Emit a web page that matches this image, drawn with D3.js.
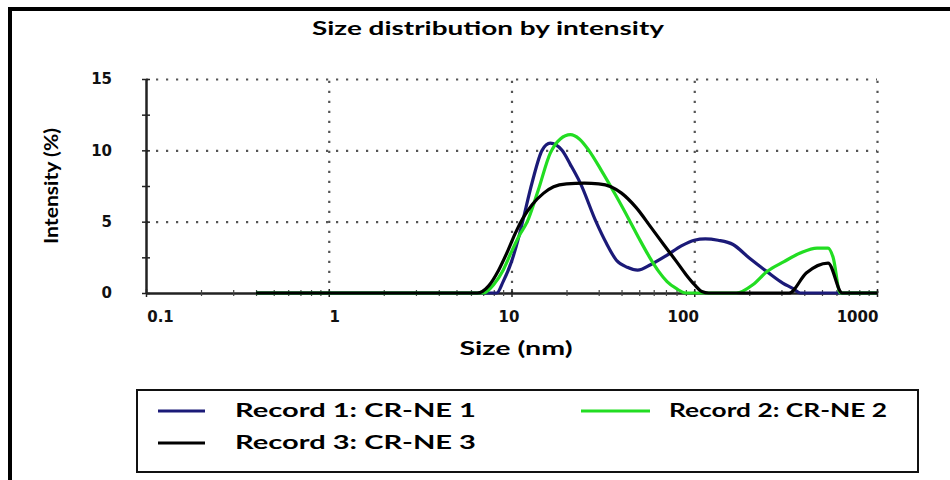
<!DOCTYPE html>
<html>
<head>
<meta charset="utf-8">
<script src="https://cdn.jsdelivr.net/npm/d3@7"></script>
<style>
  body { margin: 0; background: #fff; }
  svg { display: block; }
</style>
</head>
<body>
<div id="chartContainer"></div>
<script>
// data: size (nm) / intensity (%)
const record1Size = [0.4, 8.3, 9, 10, 11, 11.5, 13, 14.7, 16.3, 18.9, 21, 23.8, 29, 33, 37.5, 43, 49, 58, 70, 85, 100, 115, 135, 163, 200, 250, 305, 348, 380, 1000];
const record1Int  = [0, 0, 0.8, 2.2, 4.0, 5.0, 7.8, 10.0, 10.5, 10.0, 9.0, 7.7, 5.0, 3.5, 2.3, 1.8, 1.6, 2.0, 2.6, 3.3, 3.7, 3.8, 3.7, 3.4, 2.45, 1.5, 0.7, 0.3, 0, 0];

const record2Size = [0.4, 7, 8, 9, 10, 11, 12.2, 14, 16.3, 18.5, 21, 23.5, 26.5, 31, 37, 44.6, 50, 57, 64, 71, 80, 90, 170, 210, 250, 310, 380, 470, 540, 575, 630, 1000];
const record2Int  = [0, 0, 0.6, 1.6, 2.9, 4.0, 5.0, 7.2, 9.8, 10.8, 11.1, 10.8, 10.0, 8.6, 6.9, 5.0, 3.8, 2.5, 1.5, 0.8, 0.3, 0, 0, 0.6, 1.5, 2.2, 2.8, 3.15, 3.15, 2.5, 0, 0];

const record3Size = [0.4, 6.5, 7.5, 8.5, 9.5, 10.5, 11.5, 13, 15, 17, 20, 25, 30, 35, 40, 48, 58, 68, 80, 90, 100, 110, 120, 330, 410, 540, 645, 1000];
const record3Int  = [0, 0, 0.5, 1.6, 2.9, 4.2, 5.2, 6.2, 7.0, 7.45, 7.65, 7.7, 7.65, 7.45, 7.0, 6.0, 4.6, 3.4, 2.2, 1.3, 0.6, 0.1, 0, 0, 1.4, 2.1, 0, 0];

const seriesNames  = ["Record 1: CR-NE 1", "Record 2: CR-NE 2", "Record 3: CR-NE 3"];
const seriesColors = ["#1b1a78", "#22dd22", "#000000"];

const xTicks = [0.1, 1, 10, 100, 1000];
const xTickLabels = ["0.1", "1", "10", "100", "1000"];
const yTicks = [0, 5, 10, 15];
const yMinorTicks = [2.5, 7.5, 12.5];

const svg = d3.select("#chartContainer")
    .append("svg")
    .attr("width", 950)
    .attr("height", 480);

// outer frame
svg.append("rect")
    .attr("x", 10).attr("y", 9)
    .attr("width", 960).attr("height", 500)
    .attr("fill", "none")
    .attr("stroke", "#000")
    .attr("stroke-width", 4);

const x = d3.scaleLog().domain([0.1, 1000]).range([146, 877]);
const y = d3.scaleLinear().domain([0, 15]).range([293, 79]);
// Excel put the x labels a bit off the ticks
const xLabel = d3.scaleLog().domain([0.1, 1000]).range([160, 857]);

// title
svg.append("text")
    .attr("x", 488).attr("y", 35)
    .attr("text-anchor", "middle")
    .attr("textLength", 352)
    .attr("lengthAdjust", "spacingAndGlyphs")
    .style("font-family", "Lato, 'Open Sans', sans-serif")
    .style("font-weight", "bold")
    .style("font-size", "19px")
    .text("Size distribution by intensity");

// grid
const dotted = "2.2,7.8";
svg.append("g")
    .attr("transform", "translate(146,0)")
    .call(d3.axisLeft(y).tickValues([5, 10, 15]).tickSize(-731).tickFormat(""))
    .call(g => g.select(".domain").remove())
    .selectAll("line")
    .attr("stroke", "#555")
    .attr("stroke-width", 2.2)
    .attr("stroke-dasharray", dotted);

svg.append("g")
    .attr("transform", "translate(0,293)")
    .call(d3.axisBottom(x).tickValues([1, 10, 100, 1000]).tickSize(-214).tickFormat(""))
    .call(g => g.select(".domain").remove())
    .selectAll("line")
    .attr("stroke", "#555")
    .attr("stroke-width", 2.2)
    .attr("stroke-dasharray", dotted);

// y axis
const yAxis = svg.append("g")
    .attr("transform", "translate(146,0)")
    .call(d3.axisLeft(y).tickValues(yTicks).tickSizeInner(4).tickSizeOuter(0).tickPadding(30));
yAxis.select(".domain").attr("stroke", "#222").attr("stroke-width", 2.5);
yAxis.selectAll(".tick line").attr("x1", -4).attr("x2", 4).attr("stroke", "#222").attr("stroke-width", 1.5);
yAxis.selectAll(".tick text")
    .style("font-family", "'DejaVu Sans', Verdana, sans-serif")
    .style("font-weight", "bold")
    .style("font-size", "15px")
    .attr("fill", "#111");

const yMinor = svg.append("g")
    .attr("transform", "translate(146,0)")
    .call(d3.axisLeft(y).tickValues(yMinorTicks).tickSize(4).tickFormat(""));
yMinor.select(".domain").remove();
yMinor.selectAll("line").attr("x1", -4).attr("x2", 4).attr("stroke", "#222").attr("stroke-width", 1.5);

// x axis
const xAxis = svg.append("g")
    .attr("transform", "translate(0,293)")
    .call(d3.axisBottom(x).tickValues(xTicks).tickSizeOuter(0).tickFormat(""));
xAxis.select(".domain").attr("stroke", "#222").attr("stroke-width", 2.5);
xAxis.selectAll(".tick line").attr("y1", -4).attr("y2", 4).attr("stroke", "#222").attr("stroke-width", 1.5);

const minorX = [];
[0.1, 1, 10, 100].forEach(d => { for (let k = 2; k <= 9; k++) minorX.push(d * k); });
const xMinor = svg.append("g")
    .attr("transform", "translate(0,293)")
    .call(d3.axisBottom(x).tickValues(minorX).tickFormat(""));
xMinor.select(".domain").remove();
xMinor.selectAll("line").attr("y1", -3).attr("y2", 3).attr("stroke", "#444").attr("stroke-width", 1.2);

const xLabels = svg.append("g")
    .attr("transform", "translate(0,293)")
    .call(d3.axisBottom(xLabel).tickValues(xTicks).tickSize(0).tickPadding(18)
        .tickFormat((d, i) => xTickLabels[i]));
xLabels.select(".domain").remove();
xLabels.selectAll("text")
    .style("font-family", "'DejaVu Sans', Verdana, sans-serif")
    .style("font-weight", "bold")
    .style("font-size", "15px")
    .attr("fill", "#111");

// axis titles
svg.append("text")
    .attr("x", 516).attr("y", 355)
    .attr("text-anchor", "middle")
    .attr("textLength", 113)
    .attr("lengthAdjust", "spacingAndGlyphs")
    .style("font-family", "Lato, 'Open Sans', sans-serif")
    .style("font-weight", "bold")
    .style("font-size", "19px")
    .text("Size (nm)");

svg.append("text")
    .attr("transform", "translate(58,186) rotate(-90)")
    .attr("text-anchor", "middle")
    .attr("textLength", 116)
    .attr("lengthAdjust", "spacingAndGlyphs")
    .style("font-family", "Lato, 'Open Sans', sans-serif")
    .style("font-weight", "bold")
    .style("font-size", "19px")
    .text("Intensity (%)");

// curves
const line = d3.line()
    .x(d => x(d[0]))
    .y(d => y(d[1]))
    .curve(d3.curveMonotoneX);

const records = [
    d3.zip(record1Size, record1Int),
    d3.zip(record2Size, record2Int),
    d3.zip(record3Size, record3Int)
];

svg.append("g")
    .selectAll("path")
    .data(records)
    .enter().append("path")
    .attr("d", line)
    .attr("fill", "none")
    .attr("stroke", (d, i) => seriesColors[i])
    .attr("stroke-width", 3.2)
    .attr("stroke-linejoin", "round");

// legend
svg.append("rect")
    .attr("x", 137).attr("y", 390)
    .attr("width", 781).attr("height", 82)
    .attr("fill", "none")
    .attr("stroke", "#111")
    .attr("stroke-width", 2);

const legendPos = [
    { lx: 158, ly: 411, tx: 235 },
    { lx: 581, ly: 411, tx: 669 },
    { lx: 158, ly: 443, tx: 235 }
];
const legendLen = [47, 69, 47];

const item = svg.append("g")
    .selectAll(".legend")
    .data(seriesNames)
    .enter().append("g")
    .attr("class", "legend");

item.append("line")
    .attr("x1", (d, i) => legendPos[i].lx)
    .attr("x2", (d, i) => legendPos[i].lx + legendLen[i])
    .attr("y1", (d, i) => legendPos[i].ly)
    .attr("y2", (d, i) => legendPos[i].ly)
    .attr("stroke", (d, i) => seriesColors[i])
    .attr("stroke-width", 3.2);

item.append("text")
    .attr("x", (d, i) => legendPos[i].tx)
    .attr("y", (d, i) => legendPos[i].ly + 6)
    .attr("textLength", (d, i) => i === 1 ? 218 : 241)
    .attr("lengthAdjust", "spacingAndGlyphs")
    .style("font-family", "Lato, 'Open Sans', sans-serif")
    .style("font-weight", "bold")
    .style("font-size", "18px")
    .text(d => d);
</script>
</body>
</html>
